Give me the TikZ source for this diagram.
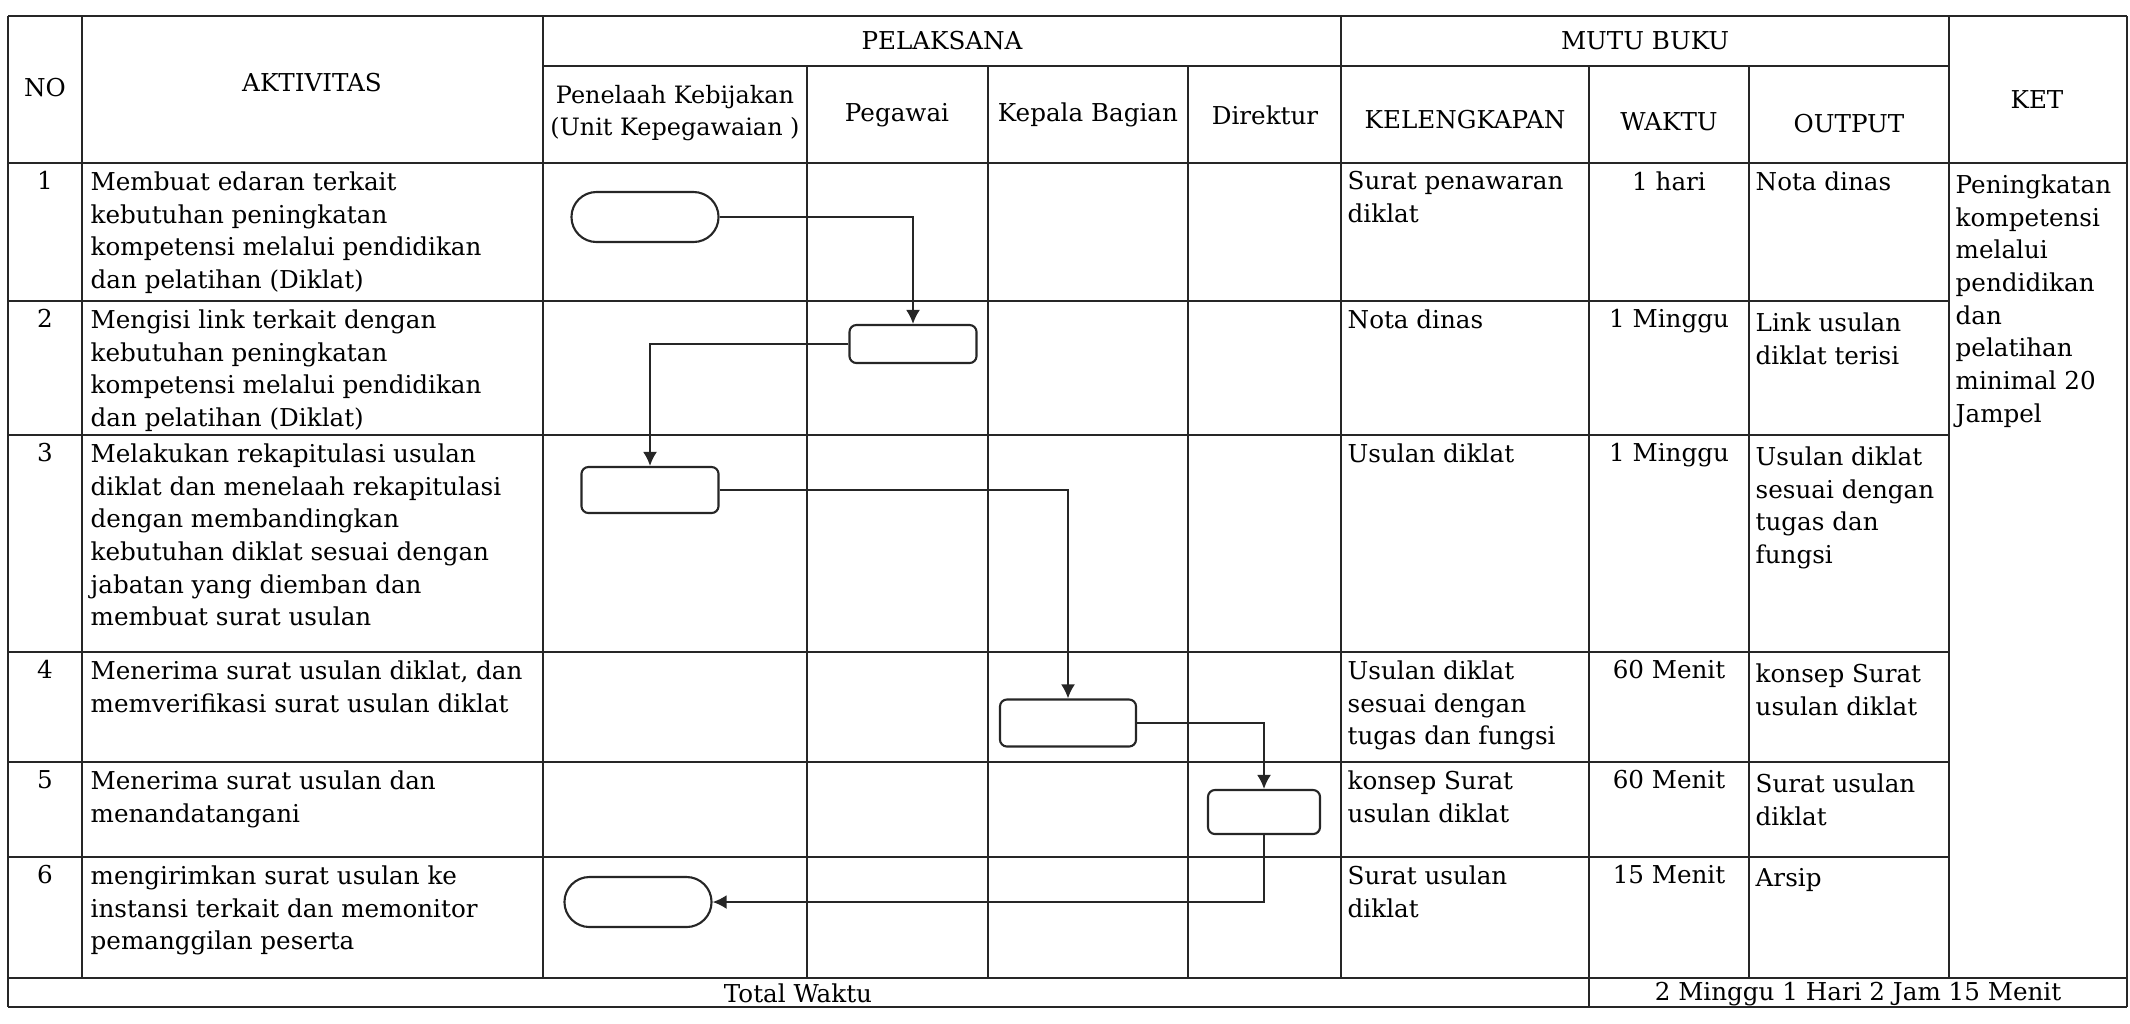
\documentclass[tikz,border=0pt]{standalone}
\usepackage{fontspec}
\setmainfont{DejaVu Serif}
\usetikzlibrary{arrows.meta}
\begin{document}
\begin{tikzpicture}[x=0.01cm,y=-0.01cm,
  grid/.style={line width=0.8pt, draw=black!85},
  txt/.style={inner sep=0pt, align=left, anchor=north west, font=\fontsize{7}{9.3}\selectfont},
  ctxt/.style={inner sep=0pt, align=center, font=\fontsize{7}{9.3}\selectfont},
  ntxt/.style={inner sep=0pt, align=center, anchor=north, font=\fontsize{7}{9.3}\selectfont},
  term/.style={draw=black!85, line width=0.6pt, rounded corners=0.25cm, minimum width=1.47cm, minimum height=0.5cm, inner sep=0pt},
  proc/.style={draw=black!85, line width=0.6pt, rounded corners=0.07cm, inner sep=0pt},
  flow/.style={draw=black!85, line width=0.6pt, -{Latex[length=1.4mm,width=1.4mm]}}
  ]
\useasboundingbox (0,0) rectangle (2130,1023);
% ---------- grid ----------
\draw[grid] (8,16) -- (2127,16);
\draw[grid] (8,163) -- (2127,163);
\draw[grid] (8,978) -- (2127,978);
\draw[grid] (8,1007) -- (2127,1007);
\draw[grid] (543,66) -- (1949,66);
\foreach \yy in {301,435,652,762,857} \draw[grid] (8,\yy) -- (1949,\yy);
\draw[grid] (8,16) -- (8,1007);
\draw[grid] (2127,16) -- (2127,1007);
\foreach \xx in {82,543,1341,1949} \draw[grid] (\xx,16) -- (\xx,978);
\foreach \xx in {807,988,1188,1749} \draw[grid] (\xx,66) -- (\xx,978);
\draw[grid] (1589,66) -- (1589,1007);
% ---------- header ----------
\node[ctxt] (hno) at (45,88) {NO};
\node[ctxt] (hakt) at (312,83) {AKTIVITAS};
\node[ctxt] (hpel) at (942,41) {PELAKSANA};
\node[ctxt, font=\fontsize{6.8}{9.3}\selectfont] (hpen) at (675,113) {Penelaah Kebijakan\\(Unit Kepegawaian )};
\node[ctxt] (hpeg) at (897,115) {Pegawai};
\node[ctxt] (hkep) at (1088,115) {Kepala Bagian};
\node[ctxt] (hdir) at (1265,115) {Direktur};
\node[ctxt] (hmutu) at (1645,41) {MUTU BUKU};
\node[ctxt] (hkel) at (1465,120) {KELENGKAPAN};
\node[ctxt] (hwak) at (1669,122) {WAKTU};
\node[ctxt] (hout) at (1849,124) {OUTPUT};
\node[ctxt] (hket) at (2037,100) {KET};
% ---------- row 1 ----------
\node[ntxt] (n1) at (45,171) {1};
\node[txt] (a1) at (90,171) {Membuat edaran terkait\\kebutuhan peningkatan\\kompetensi melalui pendidikan\\dan pelatihan (Diklat)};
\node[txt] (k1) at (1347,171) {Surat penawaran\\diklat};
\node[ntxt] (w1) at (1669,171) {1 hari};
\node[txt] (o1) at (1755,171) {Nota dinas};
% ---------- row 2 ----------
\node[ntxt] (n2) at (45,309) {2};
\node[txt] (a2) at (90,309) {Mengisi link terkait dengan\\kebutuhan peningkatan\\kompetensi melalui pendidikan\\dan pelatihan (Diklat)};
\node[txt] (k2) at (1347,309) {Nota dinas};
\node[ntxt] (w2) at (1669,309) {1 Minggu};
\node[txt] (o2) at (1755,312) {Link usulan\\diklat terisi};
% ---------- row 3 ----------
\node[ntxt] (n3) at (45,443) {3};
\node[txt] (a3) at (90,443) {Melakukan rekapitulasi usulan\\diklat dan menelaah rekapitulasi\\dengan membandingkan\\kebutuhan diklat sesuai dengan\\jabatan yang diemban dan\\membuat surat usulan};
\node[txt] (k3) at (1347,443) {Usulan diklat};
\node[ntxt] (w3) at (1669,443) {1 Minggu};
\node[txt] (o3) at (1755,446) {Usulan diklat\\sesuai dengan\\tugas dan\\fungsi};
% ---------- row 4 ----------
\node[ntxt] (n4) at (45,660) {4};
\node[txt] (a4) at (90,660) {Menerima surat usulan diklat, dan\\memverifikasi surat usulan diklat};
\node[txt] (k4) at (1347,660) {Usulan diklat\\sesuai dengan\\tugas dan fungsi};
\node[ntxt] (w4) at (1669,660) {60 Menit};
\node[txt] (o4) at (1755,663) {konsep Surat\\usulan diklat};
% ---------- row 5 ----------
\node[ntxt] (n5) at (45,770) {5};
\node[txt] (a5) at (90,770) {Menerima surat usulan dan\\menandatangani};
\node[txt] (k5) at (1347,770) {konsep Surat\\usulan diklat};
\node[ntxt] (w5) at (1669,770) {60 Menit};
\node[txt] (o5) at (1755,773) {Surat usulan\\diklat};
% ---------- row 6 ----------
\node[ntxt] (n6) at (45,865) {6};
\node[txt] (a6) at (90,865) {mengirimkan surat usulan ke\\instansi terkait dan memonitor\\pemanggilan peserta};
\node[txt] (k6) at (1347,865) {Surat usulan\\diklat};
\node[ntxt] (w6) at (1669,865) {15 Menit};
\node[txt] (o6) at (1755,868) {Arsip};
% ---------- KET ----------
\node[txt] (ket) at (1955,174) {Peningkatan\\kompetensi\\melalui\\pendidikan\\dan\\pelatihan\\minimal 20\\Jampel};
% ---------- total ----------
\node[ctxt] (tw) at (798,993) {Total Waktu};
\node[ctxt] (tv) at (1858,994) {2 Minggu 1 Hari 2 Jam 15 Menit};
% ---------- flow shapes ----------
\node[term] (t1) at (645,217) {};
\node[proc, minimum width=1.27cm, minimum height=0.38cm] (b2) at (913,344) {};
\node[proc, minimum width=1.37cm, minimum height=0.46cm] (b3) at (650,490) {};
\node[proc, minimum width=1.36cm, minimum height=0.47cm] (b4) at (1068,723) {};
\node[proc, minimum width=1.12cm, minimum height=0.44cm] (b5) at (1264,812) {};
\node[term] (t6) at (638,902) {};
% ---------- connectors ----------
\draw[flow] (t1.east) -| (b2.north);
\draw[flow] (b2.west) -| (b3.north);
\draw[flow] (b3.east) -| (b4.north);
\draw[flow] (b4.east) -| (b5.north);
\draw[flow] (b5.south) |- (t6.east);
\end{tikzpicture}
\end{document}
